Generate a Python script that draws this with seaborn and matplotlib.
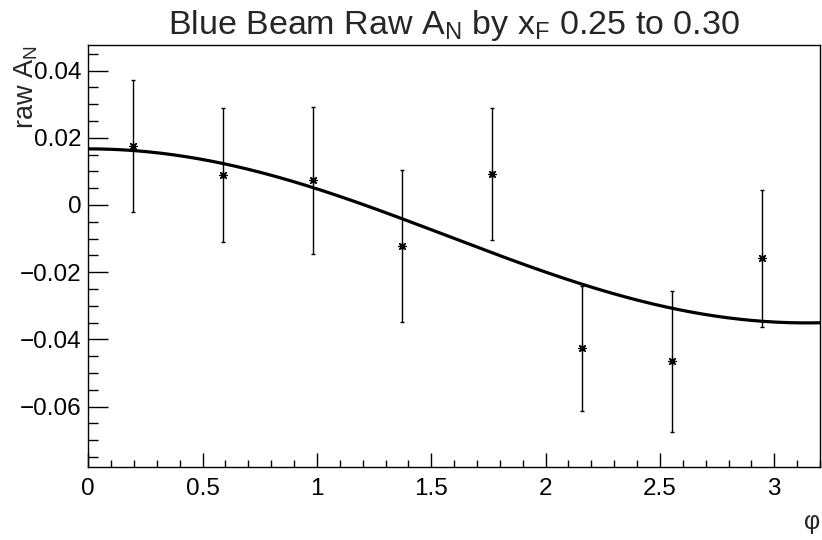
import numpy as np
import pandas as pd
import seaborn as sns
import matplotlib.pyplot as plt
from matplotlib.ticker import MultipleLocator, FuncFormatter

# datos
phi = [0.196, 0.589, 0.982, 1.374, 1.767, 2.160, 2.553, 2.945]
raw_an = [0.0175, 0.0090, 0.0073, -0.0122, 0.0093, -0.0427, -0.0465, -0.0158]
raw_an_err = [0.0196, 0.0199, 0.0218, 0.0226, 0.0197, 0.0187, 0.0210, 0.0204]

# parametros del ajuste p0 + p1*cos(phi)
fit_p0 = -0.0092
fit_p1 = 0.0259

sns.set_style("white")
plt.rcParams['font.family'] = ['Liberation Sans', 'DejaVu Sans']
plt.rcParams['axes.unicode_minus'] = True

datos = pd.DataFrame({'phi': phi, 'raw_an': raw_an, 'err': raw_an_err})
phi_fit = np.linspace(0, 3.2, 300)
ajuste = pd.DataFrame({'phi': phi_fit, 'an': fit_p0 + fit_p1 * np.cos(phi_fit)})

fig = plt.figure(figsize=(8.22, 5.4), dpi=100)
ax = fig.add_axes([0.1074, 0.1357, 0.8902, 0.7809])

ax.errorbar(datos['phi'], datos['raw_an'], yerr=datos['err'], fmt='none',
            ecolor='black', elinewidth=1, capsize=1.5, capthick=1, zorder=2)
sns.scatterplot(data=datos, x='phi', y='raw_an', marker=(8, 2, 0), s=30,
                color='black', linewidth=0.9, ax=ax, zorder=3)
sns.lineplot(data=ajuste, x='phi', y='an', color='black', linewidth=2.3, ax=ax, zorder=4)

ax.set_xlim(0, 3.2)
ax.set_ylim(-0.0779, 0.0476)


def fmt(v, pos):
    if abs(v) < 1e-12:
        return '0'
    return ('%g' % round(v, 6)).replace('-', '\u2212')


ax.xaxis.set_major_locator(MultipleLocator(0.5))
ax.xaxis.set_minor_locator(MultipleLocator(0.1))
ax.yaxis.set_major_locator(MultipleLocator(0.02))
ax.yaxis.set_minor_locator(MultipleLocator(0.005))
ax.xaxis.set_major_formatter(FuncFormatter(fmt))
ax.yaxis.set_major_formatter(FuncFormatter(fmt))

ax.tick_params(axis='both', which='both', direction='in', bottom=True, left=True,
               top=False, right=False, colors='black', labelsize=17.5)
ax.tick_params(axis='x', which='major', length=10, width=1, pad=8)
ax.tick_params(axis='x', which='minor', length=5, width=1)
ax.tick_params(axis='y', which='major', length=14.4, width=1, pad=5)
ax.tick_params(axis='y', which='minor', length=7.2, width=1)

for s in ax.spines.values():
    s.set_visible(True)
    s.set_color('black')
    s.set_linewidth(1)

ax.set_xlabel('\u03c6', fontsize=18, loc='right')
ax.xaxis.set_label_coords(1.0, -0.103)
ax.set_ylabel('raw A$_\\mathregular{N}$', fontsize=19.5, loc='top')
ax.yaxis.set_label_coords(-0.066, 1.0)

fig.text(0.5523, 1 - 34 / 540, 'Blue Beam Raw A$_\\mathregular{N}$ by x$_\\mathregular{F}$ 0.25 to 0.30',
         ha='center', va='baseline', fontsize=24.5)

fig.savefig('out.png', dpi=100)
